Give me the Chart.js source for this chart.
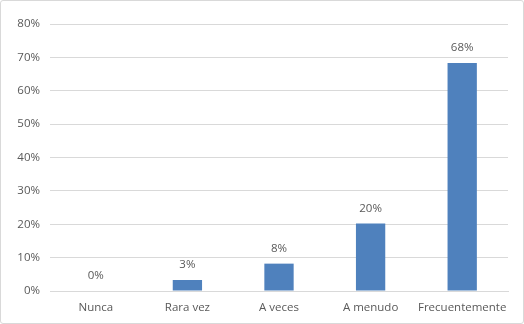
<!DOCTYPE html>
<html><head><meta charset="utf-8">
<script src="https://cdn.jsdelivr.net/npm/chart.js@4/dist/chart.umd.min.js"></script>
<style>
html,body{margin:0;padding:0;background:#fff;}
#wrap{position:absolute;left:0;top:0;width:522px;height:322px;border:1px solid #d9d9d9;border-radius:3px;}
canvas{position:absolute;left:0;top:0;}
</style></head>
<body>
<div id="wrap"></div>
<canvas id="c" width="524" height="324"></canvas>
<script>
const categories = ["Nunca", "Rara vez", "A veces", "A menudo", "Frecuentemente"];
const values = [0, 3.3, 8.2, 20.2, 68.3];
const valueLabels = ["0%", "3%", "8%", "20%", "68%"];
const yTicks = [0, 10, 20, 30, 40, 50, 60, 70, 80];

const FONT = "'Open Sans', sans-serif";
const labelPlugin = {
  id: 'labels',
  afterDatasetsDraw(chart) {
    const ctx = chart.ctx;
    const meta = chart.getDatasetMeta(0);
    ctx.save();
    ctx.font = "11.5px " + FONT;
    ctx.fillStyle = "#595959";
    ctx.textAlign = "center";
    ctx.textBaseline = "middle";
    meta.data.forEach((bar, i) => {
      ctx.fillText(valueLabels[i], bar.x, bar.y - 15);
    });
    ctx.restore();
  }
};

new Chart(document.getElementById('c'), {
  type: 'bar',
  data: {
    labels: categories,
    datasets: [{ data: values, backgroundColor: '#4f81bd', barPercentage: 1, categoryPercentage: 0.32 }]
  },
  options: {
    responsive: false,
    animation: false,
    layout: { padding: { top: 24, right: 16, left: 0, bottom: 0 } },
    plugins: { legend: { display: false }, tooltip: { enabled: false } },
    scales: {
      x: {
        grid: { display: false, drawTicks: false },
        border: { display: true, color: '#d9d9d9' },
        ticks: { color: '#595959', font: { family: FONT, size: 11.5 }, padding: 10, maxRotation: 0 },
        afterFit(s) { s.height = 33; }
      },
      y: {
        min: 0, max: 80,
        afterBuildTicks(s) { s.ticks = yTicks.map(v => ({ value: v })); },
        grid: { color: '#d9d9d9', drawTicks: false },
        border: { display: false },
        ticks: { color: '#595959', font: { family: FONT, size: 11.5 }, padding: 10, callback: v => v + '%' },
        afterFit(s) { s.width = 50; }
      }
    }
  },
  plugins: [labelPlugin]
});
</script>
</body></html>
